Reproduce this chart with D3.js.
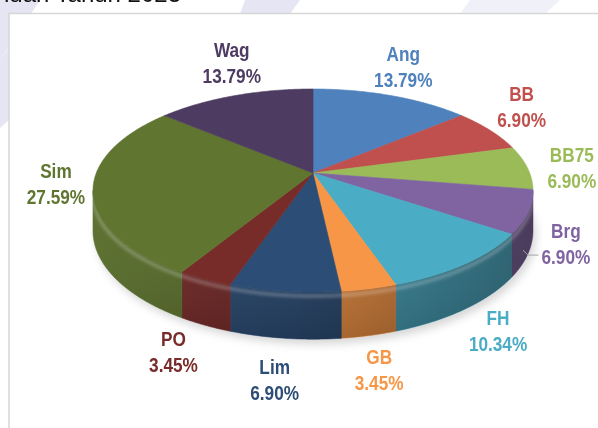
<!DOCTYPE html>
<html>
<head>
<meta charset="utf-8">
<script src="https://cdn.jsdelivr.net/npm/d3@7/dist/d3.min.js"></script>
<style>
    html, body { margin: 0; padding: 0; background: #fff; }
    svg { display: block; }
    .lbl { font-family: "Liberation Sans", Arial, sans-serif; font-weight: bold; font-size: 21px; }
</style>
</head>
<body>
<div id="chart"></div>
<script>
// data
const categories = ["Ang", "BB", "BB75", "Brg", "FH", "GB", "Lim", "PO", "Sim", "Wag"];
const percents = [13.79, 6.90, 6.90, 6.90, 10.34, 3.45, 6.90, 3.45, 27.59, 13.79];
const colors = ["#4f81bd", "#c0504d", "#9bbb59", "#8064a2", "#4bacc6",
                "#f79646", "#2c4d75", "#772c2a", "#5f7530", "#4d3b62"];
// small label nudges so the labels sit where excel put them
const labelNudge = [[-1, -2], [0, -7], [12, 2], [6, 3], [13, 4],
                    [4, 7], [-7, 14], [-19, 3], [0, -18], [10, -6]];
const leaders = ["Brg"];

const width = 598, height = 428;

// 3d pie geometry (perspective tilt)
const cx = 313, cy = 173;
const a = 216.7, b = 98.5, k = 0.1725, depth = 39;

const color = d3.scaleOrdinal().domain(categories).range(colors);

const pie = d3.pie()
    .value(function(d, i) { return percents[i]; })
    .sort(null)
    .startAngle(0)
    .endAngle(2 * Math.PI);

const arcs = pie(categories);

function proj(t, r) {
    r = r === undefined ? 1 : r;
    const u = r * Math.sin(t), v = -r * Math.cos(t);
    const d = 1 - k * v;
    return [cx + a * u / d, cy + b * v / d, d];
}

function rim(t0, t1, drop) {
    const n = Math.max(2, Math.ceil((t1 - t0) / 0.01));
    const pts = [];
    for (let i = 0; i <= n; i++) {
        const t = t0 + (t1 - t0) * i / n;
        const p = proj(t);
        pts.push([p[0], p[1] + (drop ? depth / p[2] : 0)]);
    }
    return pts;
}

// find the silhouette angles (left / right extremes of the top rim)
let tR = 0, tL = 0, maxX = -1e9, minX = 1e9;
for (let t = 0; t < 2 * Math.PI; t += 0.001) {
    const p = proj(t);
    if (p[0] > maxX) { maxX = p[0]; tR = t; }
    if (p[0] < minX) { minX = p[0]; tL = t; }
}

const line = d3.line();

const svg = d3.select('#chart')
    .append('svg')
    .attr('width', width)
    .attr('height', height);

const defs = svg.append('defs');

const blur = defs.append('filter').attr('id', 'shadowBlur')
    .attr('x', '-20%').attr('y', '-20%').attr('width', '140%').attr('height', '140%');
blur.append('feGaussianBlur').attr('stdDeviation', 4);

const soft = defs.append('filter').attr('id', 'soft')
    .attr('x', '-10%').attr('y', '-50%').attr('width', '120%').attr('height', '200%');
soft.append('feGaussianBlur').attr('stdDeviation', 1.6);

const sideGrad = defs.append('linearGradient')
    .attr('id', 'sideGrad')
    .attr('gradientUnits', 'userSpaceOnUse')
    .attr('x1', minX).attr('y1', 0).attr('x2', maxX).attr('y2', 0);
sideGrad.append('stop').attr('offset', 0).attr('stop-color', '#000').attr('stop-opacity', 0.0);
sideGrad.append('stop').attr('offset', 0.45).attr('stop-color', '#000').attr('stop-opacity', 0.12);
sideGrad.append('stop').attr('offset', 1).attr('stop-color', '#000').attr('stop-opacity', 0.42);

const vGrad = defs.append('linearGradient')
    .attr('id', 'vGrad')
    .attr('x1', 0).attr('y1', 0).attr('x2', 0).attr('y2', 1);
vGrad.append('stop').attr('offset', 0).attr('stop-color', '#fff').attr('stop-opacity', 0.0);
vGrad.append('stop').attr('offset', 1).attr('stop-color', '#000').attr('stop-opacity', 0.12);

// faint watermark in the background
const wm = svg.append('g').attr('fill', '#dcdcef').attr('opacity', 0.75);
wm.append('path').attr('d', 'M0,0 L40,0 L14,40 L0,60 Z');
wm.append('path').attr('d', 'M245,0 L300,0 L290,14 L240,14 Z');
wm.append('path').attr('d', 'M0,60 L9,48 L9,120 L0,128 Z');
wm.append('path').attr('d', 'M470,0 L560,0 L545,14 L460,14 Z').attr('opacity', 0.6);

// title, mostly cut off at the very top
svg.append('text')
    .attr('x', 181)
    .attr('y', 2)
    .attr('text-anchor', 'end')
    .attr('font-family', '"Liberation Sans", Arial, sans-serif')
    .attr('font-size', 24)
    .attr('fill', '#111')
    .text('Januari Tahun 2023');

// chart area
svg.append('rect')
    .attr('x', 9).attr('y', 13.5)
    .attr('width', width).attr('height', height)
    .attr('fill', '#fff')
    .attr('stroke', '#d6d6d6')
    .attr('stroke-width', 1.5);

const g = svg.append('g');

// soft shadow under the pie
const bottomOutline = rim(0, 2 * Math.PI, true);
g.append('path')
    .attr('d', line(bottomOutline) + 'Z')
    .attr('transform', 'translate(3,5)')
    .attr('fill', '#9a9a9a')
    .attr('opacity', 0.4)
    .attr('filter', 'url(#shadowBlur)');

// side walls (only the front part is visible)
const walls = g.append('g');
arcs.forEach(function(d) {
    const s = Math.max(d.startAngle, tR), e = Math.min(d.endAngle, tL);
    if (s >= e) return;
    const top = rim(s, e, false);
    const bot = rim(s, e, true).reverse();
    const c = d3.color(color(d.data)).darker(0.15);
    walls.append('path')
        .attr('d', line(top.concat(bot)) + 'Z')
        .attr('fill', c)
        .attr('stroke', c)
        .attr('stroke-width', 0.6);
});

const frontTop = rim(tR, tL, false);
const frontBot = rim(tR, tL, true).reverse();
const frontPath = line(frontTop.concat(frontBot)) + 'Z';

defs.append('clipPath').attr('id', 'frontClip')
    .append('path').attr('d', frontPath);

g.append('path').attr('d', frontPath).attr('fill', 'url(#sideGrad)');
g.append('path').attr('d', frontPath).attr('fill', 'url(#vGrad)');

// bevel highlight just under the top rim
const bevel = frontTop.map(function(p) { return [p[0], p[1] + 4]; });
g.append('path')
    .attr('d', line(bevel))
    .attr('fill', 'none')
    .attr('stroke', '#fff')
    .attr('stroke-opacity', 0.22)
    .attr('stroke-width', 4)
    .attr('clip-path', 'url(#frontClip)')
    .attr('filter', 'url(#soft)');

// top faces
const apex = proj(0, 0);
g.append('g')
    .selectAll('path')
    .data(arcs)
    .enter()
    .append('path')
    .attr('d', function(d) {
        const pts = [[apex[0], apex[1]]].concat(rim(d.startAngle, d.endAngle, false));
        return line(pts) + 'Z';
    })
    .attr('fill', function(d) { return color(d.data); })
    .attr('stroke', function(d) { return color(d.data); })
    .attr('stroke-width', 0.6);

// labels
const sx = 0.82;
const labels = svg.append('g').attr('class', 'lbl');
arcs.forEach(function(d, i) {
    const mid = (d.startAngle + d.endAngle) / 2;
    const dx = Math.sin(mid), dy = -Math.cos(mid);
    const p = proj(mid);
    let px = p[0], py = p[1];
    if (dy > 0) py += depth / p[2] * dy;

    const c = d3.color(color(d.data));
    const t1 = labels.append('text').attr('text-anchor', 'middle').attr('fill', c).text(d.data);
    const t2 = labels.append('text').attr('text-anchor', 'middle').attr('fill', c)
        .text(percents[i].toFixed(2) + '%');
    const w = Math.max(t1.node().getComputedTextLength(), t2.node().getComputedTextLength()) * sx;
    const hw = w / 2, hh = 20;
    const tt = Math.min(Math.abs(dx) > 1e-6 ? hw / Math.abs(dx) : 1e9,
                        Math.abs(dy) > 1e-6 ? hh / Math.abs(dy) : 1e9) + 8;
    let lx = px + dx * tt + labelNudge[i][0];
    let ly = py + dy * tt + labelNudge[i][1];
    lx = Math.max(9 + hw + 1, Math.min(width - hw - 1, lx));

    t1.attr('transform', `translate(${lx},${ly - 5.5}) scale(${sx},1)`);
    t2.attr('transform', `translate(${lx},${ly + 20.5}) scale(${sx},1)`);

    if (leaders.indexOf(d.data) >= 0) {
        const q = proj(mid);
        const ex = lx - hw - 3, ey = ly + 12;
        const sxp = q[0] - 5, syp = q[1] + depth / q[2] * 0.92;
        svg.append('path')
            .attr('d', line([[sxp, syp], [sxp + 5, ey], [ex, ey]]))
            .attr('fill', 'none')
            .attr('stroke', '#a6a6a6')
            .attr('stroke-width', 1);
    }
});
</script>
</body>
</html>
